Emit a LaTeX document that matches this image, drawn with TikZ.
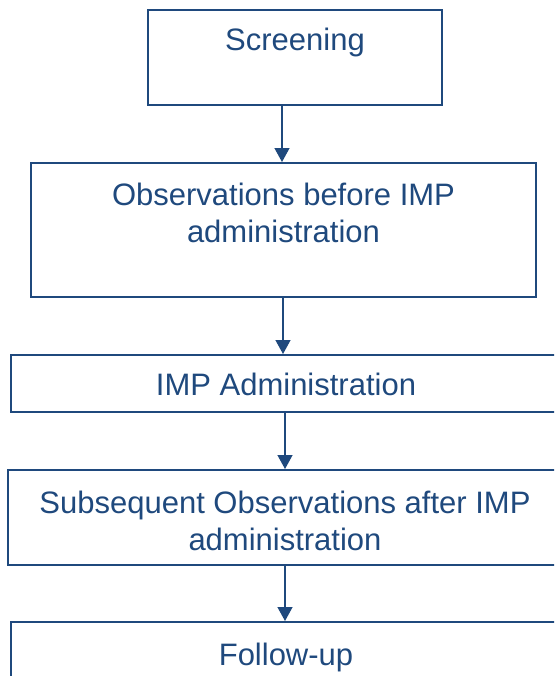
\documentclass[tikz,border=0pt]{standalone}
\usepackage{fontspec}
\setmainfont{Liberation Sans}
\usetikzlibrary{arrows.meta}
\definecolor{stageblue}{RGB}{31,73,125}
\tikzset{
    stage/.style={draw=stageblue, line width=1pt, inner sep=0pt, text=stageblue,
        align=center, font=\fontsize{15.5pt}{18.5pt}\selectfont},
    flow/.style={draw=stageblue, line width=0.7pt,
        -{Triangle[width=7.5pt,length=7pt]}, fill=stageblue}
}
\begin{document}
\begin{tikzpicture}[x=0.5pt, y=-0.5pt]
            \useasboundingbox (0,0) rectangle (554,676);
            \clip (0,0) rectangle (554,676);
            %riquadri
            \node[stage, minimum width=147pt, text height=20.25pt, text depth=27.5pt] (scr) at (295, 57.25) {Screening};
            \node[stage, minimum width=252.5pt, text height=39.5pt, text depth=27.5pt] (obs) at (283.5, 230) {Observations before IMP\\administration};
            \node[stage, minimum width=275pt, text height=20pt, text depth=8.5pt] (adm) at (286, 383.5) {IMP Administration};
            \node[stage, minimum width=277pt, text height=40pt, text depth=7.5pt] (sub) at (285, 517.5) {Subsequent Observations after IMP\\administration};
            \node[stage, minimum width=275pt, text height=21.5pt, text depth=9.5pt] (fol) at (286, 653) {Follow-up};
            %frecce
            \coordinate (f1) at (282, 0);
            \coordinate (f2) at (283, 0);
            \coordinate (f3) at (285, 0);
            \coordinate (f4) at (285, 0);
            \draw[flow] (scr.south -| f1) -- (obs.north -| f1);
            \draw[flow] (obs.south -| f2) -- (adm.north -| f2);
            \draw[flow] (adm.south -| f3) -- (sub.north -| f3);
            \draw[flow] (sub.south -| f4) -- (fol.north -| f4);
        \end{tikzpicture}
\end{document}
